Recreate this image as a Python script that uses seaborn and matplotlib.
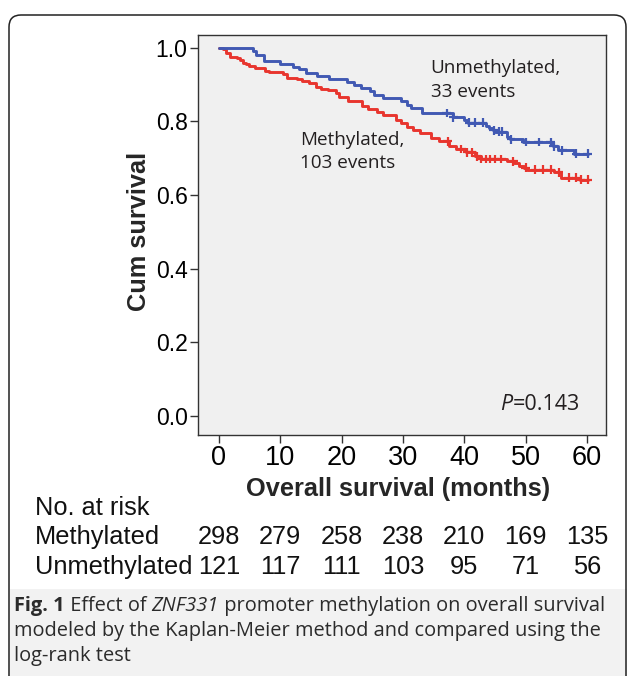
import numpy as np
import pandas as pd
import matplotlib
matplotlib.use("Agg")
import matplotlib.pyplot as plt
import seaborn as sns
from matplotlib.patches import FancyBboxPatch, Rectangle
from matplotlib.transforms import IdentityTransform, blended_transform_factory

# Kaplan-Meier steps (months, cum survival)
meth_t = [0, 0.7, 1.1, 1.8, 2.9, 3.4, 3.9, 4.4, 4.9, 5.9, 7.5, 8.2, 10.5, 11.1,
          12.7, 13.5, 14.7, 15.9, 16.6, 17.7, 19.0, 19.5, 21.1, 23.3, 24.3, 25.8,
          26.8, 28.8, 29.6, 30.7, 31.6, 32.8, 34.5, 35.8, 37.5, 38.6, 40.2, 41.8,
          42.8, 47.0, 48.1, 48.9, 49.7, 50.3, 54.6, 55.7, 58.8]
meth_s = [1.0, 0.996, 0.986, 0.976, 0.972, 0.966, 0.959, 0.955, 0.950, 0.944,
          0.938, 0.934, 0.929, 0.919, 0.915, 0.911, 0.904, 0.895, 0.889, 0.886,
          0.877, 0.866, 0.857, 0.843, 0.834, 0.827, 0.818, 0.803, 0.796, 0.785,
          0.778, 0.769, 0.755, 0.746, 0.734, 0.725, 0.716, 0.705, 0.698, 0.692,
          0.687, 0.680, 0.674, 0.669, 0.662, 0.647, 0.642]
meth_cens = [37.3, 39.5, 40.5, 41.2, 42.0, 42.8, 43.5, 44.2, 45.0, 46.0, 48.0,
             50.0, 51.6, 52.9, 54.1, 55.4, 57.0, 58.2, 59.0, 60.1]

unmeth_t = [0, 5.5, 6.1, 7.4, 10.0, 12.0, 13.0, 14.2, 16.0, 18.0, 20.9, 22.0,
            23.2, 24.7, 25.2, 26.7, 29.6, 30.7, 31.3, 33.1, 38.2, 40.0, 40.6,
            43.5, 44.1, 44.6, 45.0, 47.0, 47.5, 49.5, 54.4, 55.2, 57.9]
unmeth_s = [1.0, 0.992, 0.981, 0.965, 0.957, 0.949, 0.942, 0.933, 0.924, 0.915,
            0.908, 0.900, 0.891, 0.882, 0.873, 0.864, 0.855, 0.846, 0.837, 0.823,
            0.811, 0.803, 0.797, 0.789, 0.782, 0.776, 0.772, 0.758, 0.752, 0.744,
            0.733, 0.722, 0.712]
unmeth_cens = [37.1, 38.2, 40.8, 41.8, 43.0, 44.8, 45.6, 46.2, 47.6, 50.0, 52.1,
               54.1, 54.6, 56.0, 58.2, 60.1]

risk_months = [0, 10, 20, 30, 40, 50, 60]
risk_meth = [298, 279, 258, 238, 210, 169, 135]
risk_unmeth = [121, 117, 111, 103, 95, 71, 56]

colors = {"Methylated": "#E8352E", "Unmethylated": "#4159B3"}


def step_value(times, surv, t):
    i = np.searchsorted(times, t, side="right") - 1
    return surv[i]


curves = []
cens = []
for name, t, s, c in [("Methylated", meth_t, meth_s, meth_cens),
                      ("Unmethylated", unmeth_t, unmeth_s, unmeth_cens)]:
    tt = list(t) + [max(c)]
    ss = list(s) + [s[-1]]
    curves.append(pd.DataFrame({"time": tt, "surv": ss, "group": name}))
    cens.append(pd.DataFrame({"time": c,
                              "surv": [step_value(t, s, x) for x in c],
                              "group": name}))
curves = pd.concat(curves, ignore_index=True)
cens = pd.concat(cens, ignore_index=True)

sns.set_theme(style="white")
plt.rcParams["font.family"] = ["Liberation Sans", "DejaVu Sans"]

W, H = 627, 676
fig = plt.figure(figsize=(W / 100, H / 100), dpi=100)

# outer rounded frame and caption panel
fig.add_artist(Rectangle((10, 0), W - 10, H - 589, transform=IdentityTransform(),
                         facecolor="#F2F2F2", edgecolor="none", zorder=0))
fig.add_artist(FancyBboxPatch((9, -40), 617, H - 15 + 40,
                              boxstyle="round,pad=0,rounding_size=12",
                              transform=IdentityTransform(), facecolor="none",
                              edgecolor="#222222", linewidth=1.1, zorder=1))

ax = fig.add_axes([198 / W, 1 - 435 / H, 408 / W, 400 / H])
ax.set_facecolor("#F0F0F0")

sns.lineplot(data=curves, x="time", y="surv", hue="group", palette=colors,
             drawstyle="steps-post", estimator=None, sort=False, linewidth=2.1,
             legend=False, ax=ax)
sns.scatterplot(data=cens, x="time", y="surv", hue="group", palette=colors,
                marker="+", s=40, linewidth=1.6, legend=False, ax=ax, zorder=3)

ax.set_xlim(-3.42, 63.1)
ax.set_ylim(-0.052, 1.035)
ax.set_xticks(risk_months)
ax.set_yticks([0, 0.2, 0.4, 0.6, 0.8, 1.0])
ax.set_yticklabels(["0.0", "0.2", "0.4", "0.6", "0.8", "1.0"])
ax.tick_params(bottom=True, left=True, direction="out", length=5.5, width=1,
               color="#333333", labelcolor="black")
ax.tick_params(axis="x", pad=2, labelsize=19.5)
ax.tick_params(axis="y", pad=2, labelsize=16.5)
for sp in ax.spines.values():
    sp.set_color("#333333")
    sp.set_linewidth(1)

ax.set_xlabel("Overall survival (months)", fontsize=18.3, fontweight="bold")
ax.xaxis.set_label_coords(0.49, -0.104)
ax.set_ylabel("Cum survival", fontsize=18.3, fontweight="bold")
ax.yaxis.set_label_coords(-0.115, 0.508)

ann = dict(family=["Open Sans", "DejaVu Sans"], fontsize=13.6, color="#231F20",
           va="center")
ax.text(34.5, 0.946, "Unmethylated,", **ann)
ax.text(34.5, 0.881, "33 events", **ann)
ax.text(13.2, 0.750, "Methylated,", **ann)
ax.text(13.2, 0.686, "103 events", **ann)
pw = ax.text(58.8, 0.030, "=0.143", ha="right",
             **{**ann, "fontsize": 15.5})

# risk table
tr = blended_transform_factory(ax.transData, fig.transFigure)
tab = dict(fontsize=18.3, color="#111111", va="center")
fig.text(35 / W, 1 - 508 / H, "No. at risk", **tab)
fig.text(35 / W, 1 - 537 / H, "Methylated", **tab)
fig.text(35 / W, 1 - 567 / H, "Unmethylated", **tab)
for m, a, b in zip(risk_months, risk_meth, risk_unmeth):
    ax.text(m, 1 - 537 / H, str(a), transform=tr, ha="center", **tab)
    ax.text(m, 1 - 567 / H, str(b), transform=tr, ha="center", **tab)

# italic P in front of the p-value, caption with mixed styles
fig.canvas.draw()
r = fig.canvas.get_renderer()
bb = pw.get_window_extent(r)
ax.text(bb.x0, (bb.y0 + bb.y1) / 2, "P", transform=IdentityTransform(),
        ha="right", style="italic", family=["Open Sans", "DejaVu Sans"],
        fontsize=15.5, color="#231F20", va="center")

cap = dict(family=["Open Sans", "DejaVu Sans"], fontsize=14.4, color="#2B2B2B",
           va="center", transform=IdentityTransform())
parts = [("Fig. 1", "bold", "normal"), (" Effect of ", "normal", "normal"),
         ("ZNF331", "normal", "italic"),
         (" promoter methylation on overall survival", "normal", "normal")]
x = 14
for txt, wgt, sty in parts:
    t = fig.text(x, H - 606, txt, fontweight=wgt, style=sty, **cap)
    x = t.get_window_extent(r).x1
fig.text(14, H - 631, "modeled by the Kaplan-Meier method and compared using the", **cap)
fig.text(14, H - 656, "log-rank test", **cap)

fig.savefig("out.png", dpi=100)
